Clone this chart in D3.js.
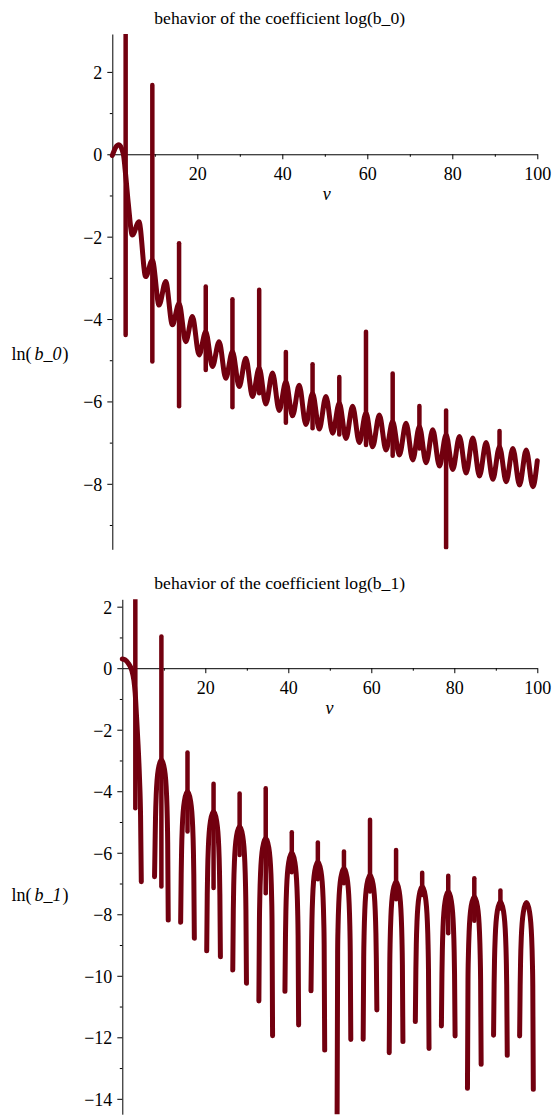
<!DOCTYPE html>
<html>
<head>
<meta charset="utf-8">
<script src="https://cdn.jsdelivr.net/npm/d3@7"></script>
<style>
body { margin: 0; background: #fff; }
svg text { font-family: "Liberation Serif", "Times New Roman", serif; fill: #000; }
</style>
</head>
<body>
<script>
// ---- data ----
const xTicks = [20, 40, 60, 80, 100];
const xMinor = [10, 30, 50, 70, 90];

// top panel: ln(b_0)
const b0Ticks = [-8, -6, -4, -2, 0, 2];
const b0Minor = [-9, -7, -5, -3, -1, 1];
const b0Curve = [
  [0, -0.03], [0.8, 0.17], [1.57, 0.23], [2.6, 0], [3.14, -0.5], [3.77, -1.2], [4.71, -1.96],
  [6.28, -1.64], [7.85, -2.97], [9.42, -2.57], [11.0, -3.66], [12.57, -3.09], [14.14, -4.14],
  [15.71, -3.62], [17.28, -4.55], [18.85, -3.94], [20.42, -4.87], [21.99, -4.31], [23.56, -5.15],
  [25.13, -4.55], [26.70, -5.44], [28.27, -4.79], [29.85, -5.64], [31.42, -4.95], [32.99, -5.88],
  [34.56, -5.19], [36.13, -6.06], [37.70, -5.31], [39.27, -6.22], [40.84, -5.52], [42.41, -6.35],
  [43.98, -5.61], [45.55, -6.56], [47.12, -5.80], [48.69, -6.67], [50.27, -5.88], [51.84, -6.77],
  [53.41, -6.04], [54.98, -6.90], [56.55, -6.12], [58.12, -7.00], [59.69, -6.28], [61.26, -7.10],
  [62.83, -6.33], [64.40, -7.18], [65.97, -6.49], [67.54, -7.30], [69.12, -6.53], [70.69, -7.42],
  [72.26, -6.61], [73.83, -7.49], [75.40, -6.69], [76.97, -7.57], [78.54, -6.81], [80.11, -7.65],
  [81.68, -6.85], [83.25, -7.74], [84.82, -6.89], [86.39, -7.81], [87.96, -7.00], [89.54, -7.89],
  [91.11, -7.10], [92.68, -7.95], [94.25, -7.14], [95.82, -8.03], [97.39, -7.18], [98.96, -8.07],
  [100, -7.44]
];
// [v, top, bottom]
const b0Spikes = [
  [3.14, 3.5, -4.39], [9.42, 1.68, -5.03], [15.71, -2.16, -6.12], [21.99, -3.21, -5.24],
  [28.27, -3.52, -6.14], [34.56, -3.29, -5.80], [40.84, -4.80, -6.52], [47.12, -5.10, -6.65],
  [53.41, -5.41, -6.80], [59.69, -4.31, -7.06], [65.97, -5.32, -7.32], [72.26, -6.11, -7.14],
  [78.54, -6.22, -9.55], [91.11, -6.72, -7.34]
];

// bottom panel: ln(b_1)
const b1Ticks = [-14, -12, -10, -8, -6, -4, -2, 0, 2];
const b1Minor = [-13, -11, -9, -7, -5, -3, -1, 1];
const b1Arches = [
  [[0, 0.30], [0.7, 0.27], [1.45, 0.16], [2.26, -0.06], [2.8, -0.4], [3.1, -0.8], [3.4, -1.5], [3.8, -2.5], [4.15, -3.6], [4.4, -4.8], [4.58, -6.94]],
  [[7.77, -6.78], [7.90, -5.68], [8.00, -4.88], [8.17, -4.13], [8.67, -3.29], [9.42, -2.98], [10.17, -3.29], [10.67, -4.13], [10.84, -4.88], [10.94, -5.68], [11.07, -8.19]],
  [[14.06, -8.26], [14.19, -6.71], [14.29, -5.91], [14.46, -5.16], [14.96, -4.32], [15.71, -4.01], [16.46, -4.32], [16.96, -5.16], [17.13, -5.91], [17.23, -6.71], [17.36, -8.78]],
  [[20.34, -9.19], [20.47, -7.36], [20.57, -6.56], [20.74, -5.81], [21.24, -4.97], [21.99, -4.66], [22.74, -4.97], [23.24, -5.81], [23.41, -6.56], [23.51, -7.36], [23.64, -9.38]],
  [[26.62, -9.81], [26.75, -7.85], [26.85, -7.05], [27.02, -6.30], [27.52, -5.46], [28.27, -5.15], [29.02, -5.46], [29.52, -6.30], [29.69, -7.05], [29.79, -7.85], [29.92, -10.24]],
  [[32.91, -10.82], [33.04, -8.23], [33.14, -7.43], [33.31, -6.68], [33.81, -5.84], [34.56, -5.53], [35.31, -5.84], [35.81, -6.68], [35.98, -7.43], [36.08, -8.23], [36.21, -11.95]],
  [[39.19, -10.5], [39.32, -8.7], [39.42, -7.9], [39.59, -7.15], [40.09, -6.31], [40.84, -6.0], [41.59, -6.31], [42.09, -7.15], [42.26, -7.9], [42.36, -8.7], [42.49, -11.6]],
  [[45.47, -10.49], [45.60, -8.99], [45.70, -8.19], [45.87, -7.44], [46.37, -6.60], [47.12, -6.29], [47.87, -6.60], [48.37, -7.44], [48.54, -8.19], [48.64, -8.99], [48.77, -12.41]],
  [[51.76, -14.5], [51.89, -9.2], [51.99, -8.4], [52.16, -7.65], [52.66, -6.81], [53.41, -6.50], [54.16, -6.81], [54.66, -7.65], [54.83, -8.4], [54.93, -9.2], [55.06, -12.07]],
  [[58.04, -12.06], [58.17, -9.42], [58.27, -8.62], [58.44, -7.87], [58.94, -7.03], [59.69, -6.72], [60.44, -7.03], [60.94, -7.87], [61.11, -8.62], [61.21, -9.42], [61.34, -11.11]],
  [[64.32, -12.5], [64.45, -9.64], [64.55, -8.84], [64.72, -8.09], [65.22, -7.25], [65.97, -6.94], [66.72, -7.25], [67.22, -8.09], [67.39, -8.84], [67.49, -9.64], [67.62, -12.14]],
  [[70.61, -11.49], [70.74, -9.8], [70.84, -9.0], [71.01, -8.25], [71.51, -7.41], [72.26, -7.10], [73.01, -7.41], [73.51, -8.25], [73.68, -9.0], [73.78, -9.8], [73.91, -12.36]],
  [[76.89, -11.63], [77.02, -9.96], [77.12, -9.16], [77.29, -8.41], [77.79, -7.57], [78.54, -7.26], [79.29, -7.57], [79.79, -8.41], [79.96, -9.16], [80.06, -9.96], [80.19, -11.96]],
  [[83.17, -13.66], [83.30, -10.13], [83.40, -9.33], [83.57, -8.58], [84.07, -7.74], [84.82, -7.43], [85.57, -7.74], [86.07, -8.58], [86.24, -9.33], [86.34, -10.13], [86.47, -12.88]],
  [[89.46, -11.93], [89.59, -10.29], [89.69, -9.49], [89.86, -8.74], [90.36, -7.90], [91.11, -7.59], [91.86, -7.90], [92.36, -8.74], [92.53, -9.49], [92.63, -10.29], [92.76, -12.58]],
  [[95.74, -11.96], [95.87, -10.32], [95.97, -9.52], [96.14, -8.77], [96.64, -7.93], [97.39, -7.62], [98.14, -7.93], [98.64, -8.77], [98.81, -9.52], [98.91, -10.32], [99.04, -13.69]]
];
const b1Spikes = [
  [3.14, 2.24, -4.55], [9.42, 1.03, -7.10], [15.71, -2.74, -5.31], [21.99, -3.76, -7.15],
  [28.27, -4.07, -6.07], [34.56, -3.90, -7.32], [40.84, -5.33, -6.63], [47.12, -5.67, -6.86],
  [53.41, -5.96, -6.99], [59.69, -4.93, -7.26], [65.97, -5.91, -7.51], [72.26, -6.65, -7.37],
  [78.54, -6.75, -8.62], [84.82, -6.83, -8.21], [91.11, -7.23, -7.81]
];

const lineColor = "#72000f";

const svg = d3.select("body").append("svg")
  .attr("width", 553)
  .attr("height", 1115);

function drawPanel(p) {
  const x = d3.scaleLinear().domain([0, 100]).range(p.xr);
  const y = d3.scaleLinear().domain(p.yd).range(p.yr);
  const g = svg.append("g");

  // title
  g.append("text")
    .attr("x", 279.7).attr("y", p.titleY)
    .attr("text-anchor", "middle")
    .attr("font-size", 17.6)
    .text(p.title);

  // y label  ln( b_0 )
  const yl = g.append("text")
    .attr("x", 11.5).attr("y", p.ylabY)
    .attr("font-size", 18);
  yl.append("tspan").text("ln(");
  yl.append("tspan").attr("dx", 3).attr("font-style", "italic").text(p.ylabSym);
  yl.append("tspan").attr("dx", 1).text(")");

  // x axis (at y=0)
  const xa = g.append("g")
    .attr("transform", "translate(0," + y(0) + ")")
    .call(d3.axisBottom(x).tickValues(xTicks).tickSize(5).tickSizeOuter(0).tickPadding(8));
  const xm = g.append("g")
    .attr("transform", "translate(0," + y(0) + ")")
    .call(d3.axisBottom(x).tickValues(xMinor).tickSize(2.5).tickFormat(() => ""));
  xm.select(".domain").remove();

  // y axis (at x=0)
  const ya = g.append("g")
    .attr("transform", "translate(" + x(0) + ",0)")
    .call(d3.axisLeft(y).tickValues(p.yTicks).tickSize(5).tickSizeOuter(0).tickPadding(5));
  const ym = g.append("g")
    .attr("transform", "translate(" + x(0) + ",0)")
    .call(d3.axisLeft(y).tickValues(p.yMinor).tickSize(2.5).tickFormat(() => ""));
  ym.select(".domain").remove();

  [xa, xm, ya, ym].forEach(a => {
    a.attr("font-size", 18).attr("font-family", null);
    a.selectAll("line").attr("stroke", "#000");
    a.selectAll("path").attr("stroke", "#000");
  });
  ya.selectAll("text").attr("dy", "0.36em");

  // x label
  g.append("text")
    .attr("x", p.vX).attr("y", y(0) + 46)
    .attr("text-anchor", "middle")
    .attr("font-size", 18)
    .attr("font-style", "italic")
    .text("v");

  // clip to view
  const cid = "clip" + p.id;
  svg.append("clipPath").attr("id", cid)
    .append("rect")
    .attr("x", p.xr[0] - 6).attr("y", p.yr[1])
    .attr("width", p.xr[1] - p.xr[0] + 12)
    .attr("height", p.yr[0] - p.yr[1]);

  const plot = g.append("g").attr("clip-path", "url(#" + cid + ")");
  const line = d3.line()
    .x(d => x(d[0]))
    .y(d => y(d[1]))
    .curve(d3.curveMonotoneX);

  plot.selectAll("path.curve")
    .data(p.curves)
    .enter()
    .append("path")
    .attr("class", "curve")
    .attr("d", line)
    .attr("fill", "none")
    .attr("stroke", lineColor)
    .attr("stroke-width", 5)
    .attr("stroke-linejoin", "round")
    .attr("stroke-linecap", "round");

  plot.selectAll("line.spike")
    .data(p.spikes)
    .enter()
    .append("line")
    .attr("class", "spike")
    .attr("x1", d => x(d[0])).attr("x2", d => x(d[0]))
    .attr("y1", d => y(d[1])).attr("y2", d => y(d[2]))
    .attr("stroke", lineColor)
    .attr("stroke-width", 4.5)
    .attr("stroke-linecap", "round");
}

drawPanel({
  id: 0,
  xr: [112.3, 537.3], yd: [-9.59, 2.92], yr: [549.3, 34],
  yTicks: b0Ticks, yMinor: b0Minor,
  title: "behavior of the coefficient log(b_0)", titleY: 24,
  ylabSym: "b_0", ylabY: 360, vX: 326.7,
  curves: [b0Curve], spikes: b0Spikes
});

drawPanel({
  id: 1,
  xr: [122.3, 537.3], yd: [-14.5, 2.24], yr: [1114.2, 599.3],
  yTicks: b1Ticks, yMinor: b1Minor,
  title: "behavior of the coefficient log(b_1)", titleY: 589,
  ylabSym: "b_1", ylabY: 901, vX: 329.5,
  curves: b1Arches, spikes: b1Spikes
});
</script>
</body>
</html>
